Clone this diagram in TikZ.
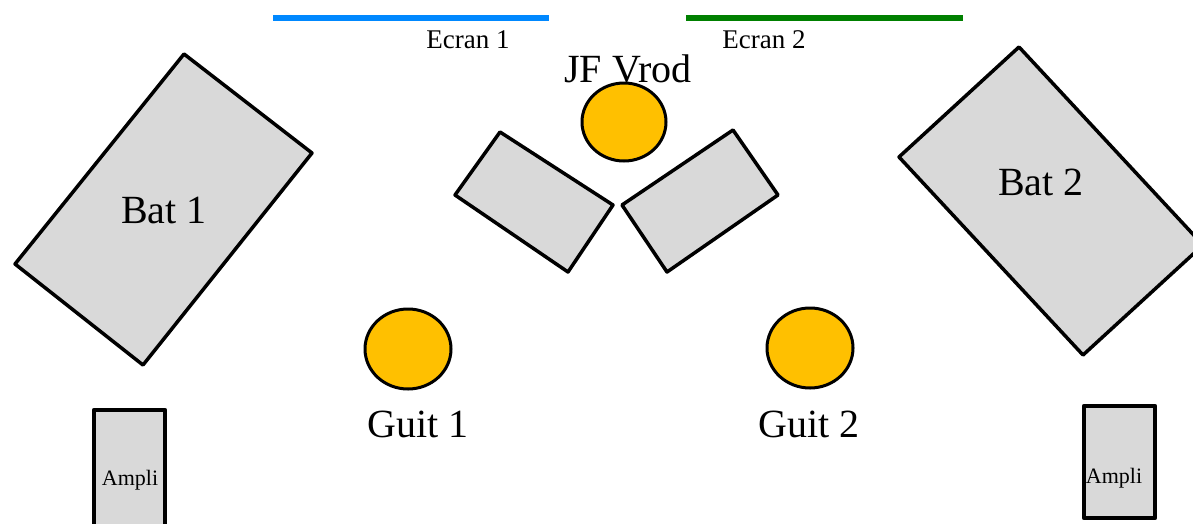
\documentclass[tikz,border=0pt]{standalone}
\usepackage{fontspec}
\setmainfont{Liberation Serif}
\definecolor{boxgray}{HTML}{D9D9D9}
\definecolor{seat}{HTML}{FFC000}
\definecolor{screenblue}{HTML}{0088FF}
\definecolor{screengreen}{HTML}{008000}
\begin{document}
\begin{tikzpicture}[x=1pt,y=-1pt,
  furniture/.style={draw=black,fill=boxgray,line width=3.5pt,line join=round},
  person/.style={draw=black,fill=seat,line width=3pt},
  screen/.style={line width=6pt},
  lbl/.style={inner sep=0pt,anchor=base,font=\fontsize{40}{44}\selectfont},
  smalllbl/.style={inner sep=0pt,anchor=base,font=\fontsize{27}{30}\selectfont},
  tinylbl/.style={inner sep=0pt,anchor=base,font=\fontsize{22}{24}\selectfont}]
\useasboundingbox (0,0) rectangle (1193,523);
% screens
\draw[screen,screenblue] (273,18) -- (549,18);
\draw[screen,screengreen] (686,18) -- (963,18);
\node[smalllbl] (ecran1) at (468,48) {Ecran 1};
\node[smalllbl] (ecran2) at (764,48) {Ecran 2};
% drums
\draw[furniture] (184,54) -- (312,153) -- (143,365) -- (15,264) -- cycle;
\node[lbl] (bat1) at (164,223) {Bat 1};
\draw[furniture] (1019,47) -- (1203,245) -- (1083,355) -- (899,157) -- cycle;
\node[lbl] (bat2) at (1041,195) {Bat 2};
% middle boxes
\draw[furniture] (500,132) -- (613,205) -- (568,272) -- (455,195) -- cycle;
\draw[furniture] (733,130) -- (778,195) -- (667,272) -- (622,205) -- cycle;
% people
\node[lbl] (jf) at (628,82) {JF Vrod};
\draw[person] (624,122) ellipse [x radius=42, y radius=39];
\draw[person] (408,349) ellipse [x radius=43, y radius=40];
\draw[person] (810,348) ellipse [x radius=43, y radius=40];
\node[lbl] (guit1) at (418,437) {Guit 1};
\node[lbl] (guit2) at (809,437) {Guit 2};
% amplis
\draw[furniture,line width=4.5pt] (94,410) rectangle (165,540);
\node[tinylbl] (ampli1) at (130,485) {Ampli};
\draw[furniture,line width=4.5pt] (1084,406) rectangle (1155,518);
\node[tinylbl] (ampli2) at (1114,483) {Ampli};
\end{tikzpicture}
\end{document}
